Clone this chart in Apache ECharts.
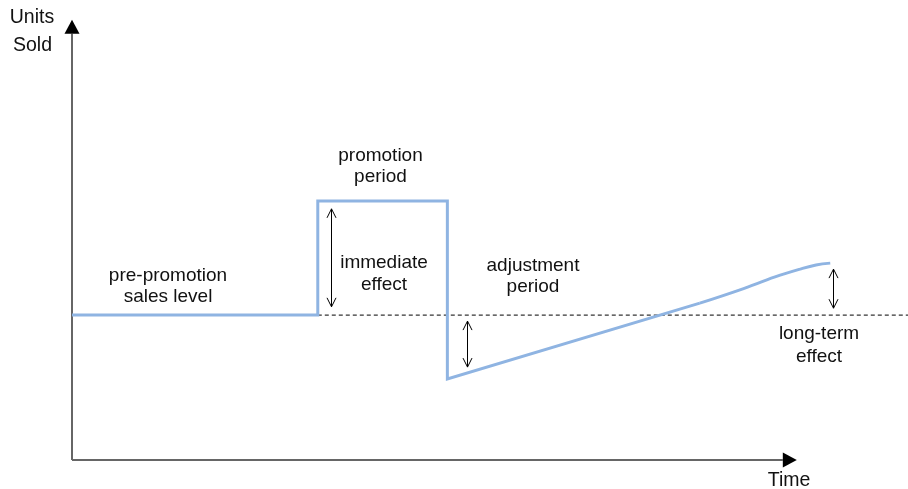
<!DOCTYPE html>
<html><head><meta charset="utf-8">
<script src="https://cdn.jsdelivr.net/npm/echarts@6/dist/echarts.min.js"></script>
<style>html,body{margin:0;padding:0;background:#fff}#c{width:908px;height:489px}</style>
</head><body><div id="c"></div>
<script>
// Time (0..100) and units sold (0..100), conceptual scale
const salesTime  = [0, 29.4, 29.4, 44.9, 44.9, 75.1];
const salesUnits = [31.5, 31.5, 56.3, 56.3, 17.6, 34.1];
const recoveryTime  = [75.1, 79.9, 84.1, 87.1, 89.0, 90.7];
const recoveryUnits = [34.1, 37.0, 39.8, 41.5, 42.4, 42.8];
const baselineTime = [29.4, 100];
const baselineUnits = [31.5, 31.5];
// [time, from units, to units]
const effectArrows = [[31.0, 54.6, 33.3], [47.2, 30.2, 20.2], [91.0, 41.5, 33.0]];
// [x1, y1, x2, y2]
const axisArrows = [[0, 0, 86.7, 0], [0, 0, 0, 95.7]];
const labelLines = [
  ['pre-promotion', 'sales level'],
  ['promotion', 'period'],
  ['immediate', 'effect'],
  ['adjustment', 'period'],
  ['long-term', 'effect']
];
const axisNames = ['Units', 'Sold', 'Time'];

const chart = echarts.init(document.getElementById('c'), null, {renderer: 'canvas'});
const FONT = 'Liberation Sans';

function zip(a, b) { return a.map((v, i) => [v, b[i]]); }

function txt(t, x, yBase, size) {
  return {type: 'text', x: x, y: yBase - size * 0.35,
    style: {text: t, fill: '#111', fontFamily: FONT, fontSize: size, align: 'center', verticalAlign: 'middle'}};
}

const labelPos = [[168, 282, 303], [380.5, 162, 183], [384, 269.5, 291.5], [533, 272, 293], [819, 340.5, 363]];
const graphics = [];
labelLines.forEach((l, i) => {
  graphics.push(txt(l[0], labelPos[i][0], labelPos[i][1], 19));
  graphics.push(txt(l[1], labelPos[i][0], labelPos[i][2], 19));
});
graphics.push(txt(axisNames[0], 32, 24.5, 19.5));
graphics.push(txt(axisNames[1], 32.5, 52, 19.5));
graphics.push(txt(axisNames[2], 789, 487, 19.5));

const blue = {color: '#8fb4e2', width: 3, join: 'miter', cap: 'butt'};

chart.setOption({
  animation: false,
  backgroundColor: '#fff',
  grid: {left: 72, right: 0, top: 0, bottom: 29},
  xAxis: {type: 'value', min: 0, max: 100, show: false},
  yAxis: {type: 'value', min: 0, max: 100, show: false},
  graphic: graphics,
  series: [
    {
      type: 'custom', clip: false, z: 1,
      data: axisArrows,
      renderItem: function (params, api) {
        const a = api.coord([api.value(0), api.value(1)]);
        const b = api.coord([api.value(2), api.value(3)]);
        const dx = b[0] - a[0], dy = b[1] - a[1];
        const len = Math.sqrt(dx * dx + dy * dy);
        const ux = dx / len, uy = dy / len;
        const hl = 14, hw = 7.5;
        const bx = b[0] - ux * hl, by = b[1] - uy * hl;
        return {type: 'group', children: [
          {type: 'line', shape: {x1: a[0], y1: a[1], x2: bx, y2: by},
            style: {stroke: '#666', lineWidth: 2}},
          {type: 'polygon', shape: {points: [[b[0], b[1]], [bx - uy * hw, by + ux * hw], [bx + uy * hw, by - ux * hw]]},
            style: {fill: '#000'}}
        ]};
      }
    },
    {
      type: 'line', data: zip(baselineTime, baselineUnits), showSymbol: false, z: 2,
      lineStyle: {color: '#000', width: 1, type: [4, 3]}
    },
    {
      type: 'line', data: zip(salesTime, salesUnits), showSymbol: false, z: 3,
      lineStyle: blue
    },
    {
      type: 'line', data: zip(recoveryTime, recoveryUnits), showSymbol: false, z: 3, smooth: 0.4,
      lineStyle: blue
    },
    {
      type: 'custom', clip: false, z: 4,
      data: effectArrows,
      renderItem: function (params, api) {
        const p1 = api.coord([api.value(0), api.value(1)]);
        const p2 = api.coord([api.value(0), api.value(2)]);
        const x = Math.round(p1[0]) + 0.5;
        const w = 4.5, h = 9;
        const st = {stroke: '#000', fill: 'none', lineWidth: 1};
        return {type: 'group', children: [
          {type: 'line', shape: {x1: x, y1: p1[1], x2: x, y2: p2[1]}, style: st},
          {type: 'polyline', shape: {points: [[x - w, p1[1] + h], [x, p1[1]], [x + w, p1[1] + h]]}, style: st},
          {type: 'polyline', shape: {points: [[x - w, p2[1] - h], [x, p2[1]], [x + w, p2[1] - h]]}, style: st}
        ]};
      }
    }
  ]
});
</script></body></html>
